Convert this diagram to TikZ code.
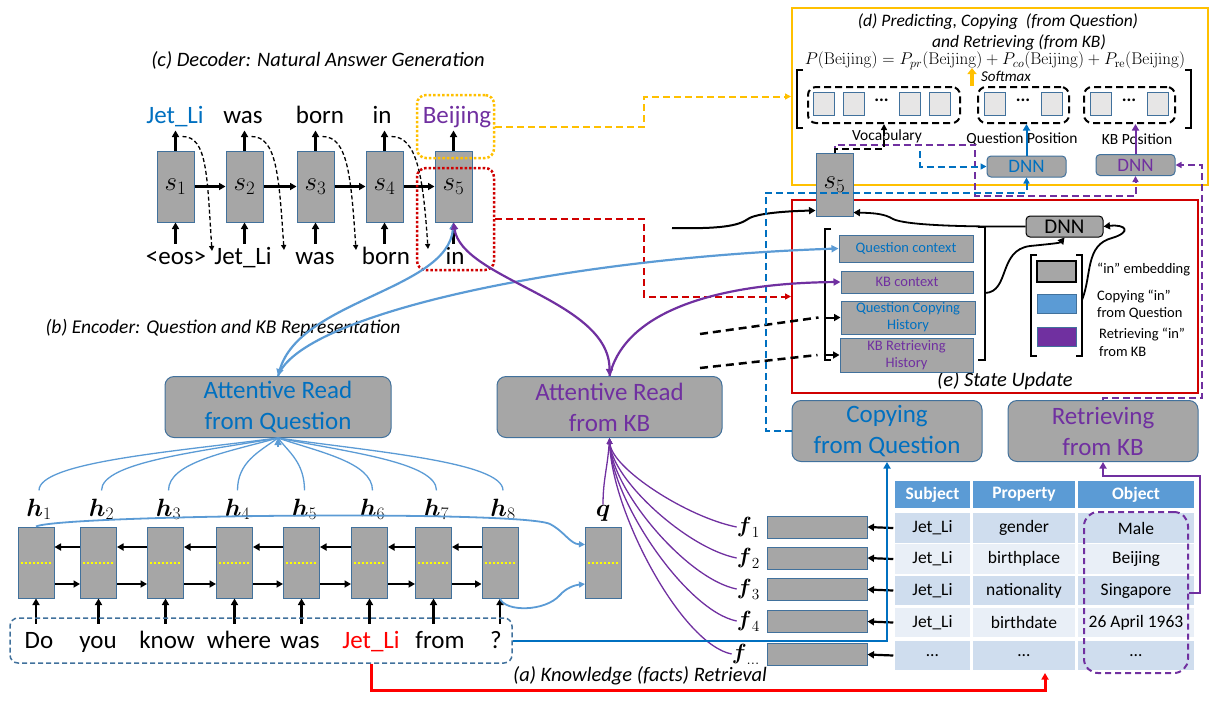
\RequirePackage{fix-cm}
\documentclass[tikz,border=0pt]{standalone}
\usepackage{amsmath}
\usepackage[no-math]{fontspec}
\setmainfont{Carlito}
\usetikzlibrary{arrows.meta,calc}
\definecolor{qblue}{HTML}{0070C0}
\definecolor{lblue}{HTML}{5B9BD5}
\definecolor{kbpur}{HTML}{7030A0}
\definecolor{bgray}{HTML}{A6A6A6}
\definecolor{steel}{HTML}{41719C}
\definecolor{dyel}{HTML}{FFC000}
\definecolor{ered}{HTML}{D00000}
\definecolor{rowA}{HTML}{CFDDEE}
\definecolor{rowB}{HTML}{E9EFF7}
\definecolor{thead}{HTML}{5B9BD5}
\definecolor{sqfill}{HTML}{E7E6E6}
\definecolor{pureyel}{HTML}{FFFF00}
\definecolor{brred}{HTML}{FF0000}
\newcommand{\fsz}[2]{\fontsize{#1}{#2}\selectfont}
\begin{document}
\begin{tikzpicture}[x=1pt,y=-1pt,
  gbox/.style={draw=steel,fill=bgray,line width=1pt,inner sep=0pt},
  ar/.style={line width=2.2pt,-{Triangle[length=6.5pt,width=7pt]}},
  wd/.style={inner sep=0pt,anchor=base,font={\fsz{25}{30}}},
  captxt/.style={inner sep=0pt,font={\fsz{20.5}{24}\itshape}},
  dec/.style={line width=1.3pt,dash pattern=on 4pt off 2.5pt,-{Triangle[length=5pt,width=5pt]}},
  ddash/.style={line width=2pt,dash pattern=on 7pt off 4pt,-{Triangle[length=6pt,width=6pt]}},
  att/.style={lblue,line width=1.3pt},
  fcur/.style={kbpur,line width=1.3pt,-{Triangle[length=6pt,width=5pt]}},
  cell/.style={draw=white,line width=1.5pt,inner sep=0pt,minimum height=31pt,font={\fsz{17.5}{21}}},
  sq/.style={draw=steel,fill=sqfill,line width=1pt,minimum width=21pt,minimum height=23pt,inner sep=0pt},
  grp/.style={draw=black,line width=2pt,dash pattern=on 7pt off 4pt,rounded corners=8pt,minimum height=36pt,inner sep=0pt},
  bigbox/.style={gbox,rounded corners=9pt,minimum height=61pt,align=center,font={\fsz{25}{31}}},
  item/.style={gbox,align=center,font={\fsz{14.5}{17}}},
  brk/.style={line width=2.5pt},
  lab/.style={inner sep=0pt,font={\fsz{15.5}{18}}},
  leg/.style={inner sep=0pt,anchor=base west,font={\fsz{14.5}{17}}},
  dnn/.style={gbox,rounded corners=4pt,minimum width=79pt,minimum height=21pt,font={\fsz{19}{20}}},
]
\useasboundingbox (0,0) rectangle (1224,721);

% ---------- frames (d) and (e)
\node[draw=dyel,line width=2pt,minimum width=416pt,minimum height=177pt,inner sep=0] (dbox) at (1000,96.5) {};
\node[draw=ered,line width=2pt,minimum width=406pt,minimum height=193pt,inner sep=0] (ebox) at (995,296.5) {};

% ---------- captions
\node[captxt] (ctit) at (318,60) {(c) Decoder: Natural Answer Generation};
\node[captxt,font={\fsz{19.5}{24}\itshape}] (btit) at (223,328) {(b) Encoder: Question and KB Representation};
\node[captxt] (atit) at (640,676) {(a) Knowledge (facts) Retrieval};
\node[captxt] (etit) at (1005,381) {(e) State Update};
\node[inner sep=0,font={\fsz{17.5}{20}\itshape}] (dt1) at (998,22) {(d) Predicting, Copying\ \ (from Question)};
\node[inner sep=0,font={\fsz{17.5}{20}\itshape}] (dt2) at (1019,43) {and Retrieving (from KB)};
\node[inner sep=0,font={\fsz{17}{20}}] (form) at (995,61) {$P(\mathrm{Beijing})=P_{pr}(\mathrm{Beijing})+P_{co}(\mathrm{Beijing})+P_{\mathrm{re}}(\mathrm{Beijing})$};
\node[inner sep=0,anchor=west,font={\fsz{15}{17}\itshape}] (smx) at (981,76) {Softmax};
\draw[dyel,line width=3.5pt,-{Triangle[length=6pt,width=9pt]}] ($(smx.west)+(-9,10)$) -- ($(smx.west)+(-9,-8)$);

% ---------- (d) contents
\draw[brk] (803,70) -| (797,128) -- (803,128);
\draw[brk] (1185,70) -| (1191,128) -- (1185,128);
\node[grp,minimum width=152pt] (voc) at (884,105) {};
\node[grp,minimum width=91pt] (qpos) at (1023.5,105) {};
\node[grp,minimum width=91pt] (kbpos) at (1129.5,105) {};
\foreach \x [count=\k] in {823.5,853.5,909.5,939.5} \node[sq] (vs\k) at (\x,104) {};
\node[sq] (qs1) at (994.5,104) {};
\node[sq] (qs2) at (1051.5,104) {};
\node[sq] (ks1) at (1100.5,104) {};
\node[sq] (ks2) at (1157.5,104) {};
\node[inner sep=0,font={\fsz{18}{20}\bfseries}] (vdt) at (881.5,100) {...};
\node[inner sep=0,font={\fsz{18}{20}\bfseries}] (qdt) at (1023,100) {...};
\node[inner sep=0,font={\fsz{18}{20}\bfseries}] (kdt) at (1129,100) {...};
\node[lab] (vocl) at (887,136) {Vocabulary};
\node[lab] (qposl) at (1022,139) {Question Position};
\node[lab] (kbposl) at (1137,139) {KB Position};
\node[dnn,text=qblue] (dnnq) at (1026.5,166.5) {DNN};
\node[dnn,text=kbpur] (dnnkb) at (1135.5,165) {DNN};
\draw[qblue,ar,line width=2pt] (dnnq.north) -- (dnnq.north |- qpos.south);
\draw[kbpur,ar,line width=2pt] (dnnkb.north) -- (dnnkb.north |- kbpos.south);

% ---------- (e) contents
\node[item,text=qblue,minimum width=134pt,minimum height=27pt] (qc) at (906,248.5) {Question context};
\node[item,text=kbpur,minimum width=132pt,minimum height=22pt] (kbc) at (907,282) {KB context};
\node[item,text=qblue,minimum width=134pt,minimum height=33pt] (qch) at (908,317.5) {Question Copying\\History};
\node[item,text=kbpur,minimum width=133pt,minimum height=34pt] (kbrh) at (906.5,355) {KB Retrieving\\History};
\draw[brk] (831,229) -| (825,360) -- (831,360);
\draw[brk] (978,227) -| (985,360) -- (978,360);
\draw[ar,line width=2pt] ($(qch.west)+(-16,0)$) -- (qch.west);
\draw[ar,line width=2pt] ($(kbrh.west)+(-16,0)$) -- (kbrh.west);
\coordinate (hq) at (700,334);
\coordinate (hk) at (700,368);
\draw[line width=2.5pt,dash pattern=on 8pt off 5pt] (hq) -- ($(qch.west)+(-22,0)$);
\draw[line width=2.5pt,dash pattern=on 8pt off 5pt] (hk) -- ($(kbrh.west)+(-22,0)$);
\node[dnn,draw=black,minimum width=77pt,font={\fsz{21}{22}}] (dnne) at (1064.5,226.5) {DNN};
\draw[brk] (1037,255) -| (1031,356) -- (1037,356);
\draw[brk] (1076,255) -| (1082,356) -- (1076,356);
\node[draw=black,fill=bgray,line width=1.5pt,minimum width=39pt,minimum height=21pt,inner sep=0] (lg1) at (1056.5,271.5) {};
\node[draw=steel,fill=lblue,line width=1pt,minimum width=39pt,minimum height=19pt,inner sep=0] (lg2) at (1056.5,303.5) {};
\node[draw=steel,fill=kbpur,line width=1pt,minimum width=39pt,minimum height=19pt,inner sep=0] (lg3) at (1056.5,336.5) {};
\node[leg] (lt1) at (1097,273) {“in” embedding};
\node[leg] (lt2) at (1097,300) {Copying “in”};
\node[leg] (lt3) at (1097,317) {from Question};
\node[leg] (lt4) at (1099,338) {Retrieving “in”};
\node[leg] (lt5) at (1099,356) {from KB};
\draw[ar,line width=1.8pt] (985,293) .. controls (1010,292) and (998,250) .. (1030,246) .. controls (1050,244) and (1060,243) .. (dnne.south);
\draw[ar,line width=1.8pt] (1082,300) .. controls (1092,275) and (1085,245) .. (1112,238) .. controls (1132,232) and (1126,224) .. (dnne.east);

% ---------- s5 (state update)
\node[gbox,minimum width=37pt,minimum height=63pt,font={\fsz{27}{30}}] (s5r) at (834.5,184.5) {$s_5$};
\draw[ar,line width=1.8pt] (dnne.west) .. controls (960,227) and (905,225) .. (893,219) .. controls (885,214) and (875,213) .. ($(s5r.south east)+(0,-4)$);
\coordinate (sprev) at (672,228);
\draw[ar,line width=2pt] (sprev) .. controls (720,229) and (738,226) .. (748,219) .. controls (756,213) and (790,211) .. ($(s5r.south west)+(0,-6)$);
\draw[kbpur,ddash] (s5r.north) -- ++(0,-8) -| (975,196) -| (dnnkb.south);
\draw[ddash] (s5r.north) |- ($(voc.south)+(0,25)$) -- (voc.south);
\coordinate (qbr) at (920,151);
\draw[qblue,ddash] (qbr) |- (dnnq.west);

% ---------- copying / retrieving
\node[bigbox,minimum width=190pt,text=qblue] (cfq) at (887,431) {Copying\\from Question};
\node[bigbox,minimum width=190pt,text=kbpur] (rkb) at (1103,431) {Retrieving\\from KB};
\draw[qblue,ddash] (cfq.west) -- ++(-26,0) |- ($(dnnq.south)+(0,15)$) -- (dnnq.south);
\draw[kbpur,ddash] (rkb.north) -- ++(0,-2) -- ++(99,0) |- (dnnkb.east);

% ---------- decoder
\foreach \i/\x in {1/175.5,2/244.5,3/315.5,4/384.5,5/453.5}{
  \node[gbox,minimum width=37pt,minimum height=71pt,font={\fsz{27}{30}}] (d\i) at (\x,186.5) {$s_{\i}$};
  \draw[ar] (d\i.north) -- ++(0,-20);
  \draw[ar] ($(d\i.south)+(0,21)$) -- (d\i.south);
}
\foreach \i/\j in {1/2,2/3,3/4,4/5} \draw[ar] (d\i.east) -- (d\j.west);
\node[wd,text=qblue] (tw1) at (175,123) {Jet\_Li};
\node[wd] (tw2) at (243,123) {was};
\node[wd] (tw3) at (320,123) {born};
\node[wd] (tw4) at (382,123) {in};
\node[wd,text=kbpur] (tw5) at (457,123) {Beijing};
\node[wd] (bw1) at (176,264) {\textless eos\textgreater};
\node[wd] (bw2) at (243,264) {Jet\_Li};
\node[wd] (bw3) at (315,264) {was};
\node[wd] (bw4) at (386,264) {born};
\node[wd] (bw5) at (455,264) {in};
\draw[dec] ($(d1.north)+(7,-14)$) .. controls +(25,0) and +(-5,-75) .. (212,251);
\draw[dec] ($(d2.north)+(7,-14)$) .. controls +(25,0) and +(-5,-75) .. (284,250);
\draw[dec] ($(d3.north)+(7,-14)$) .. controls +(25,0) and +(-5,-75) .. (356,250);
\draw[dec] ($(d4.north)+(7,-14)$) .. controls +(25,0) and +(-5,-75) .. (428,249);
\node[draw=dyel,line width=2.5pt,dash pattern=on 2.5pt off 2pt,rounded corners=9pt,minimum width=77pt,minimum height=63pt,inner sep=0] (ydot) at (455.5,126.5) {};
\node[draw=ered,line width=2.5pt,dash pattern=on 2.5pt off 2pt,rounded corners=9pt,minimum width=77pt,minimum height=102pt,inner sep=0] (rdot) at (455.5,219) {};
\draw[dyel,ddash] (ydot.east) -- ++(149,0) |- (dbox.west);
\draw[ered,ddash] (rdot.east) -- ++(149,0) |- (ebox.west);

% ---------- attentive read boxes
\node[bigbox,minimum width=226pt,text=qblue] (aq) at (278,407) {Attentive Read\\from Question};
\node[bigbox,minimum width=225pt,text=kbpur] (akb) at (609.5,407) {Attentive Read\\from KB};
\draw[lblue,line width=2.2pt,{Triangle[length=7pt,width=7pt]}-{Triangle[length=7pt,width=7pt]}] (d5.south) .. controls (448,290) and (300,300) .. (aq.north);
\draw[lblue,line width=2.2pt,-{Triangle[length=7pt,width=7pt]}] (aq.north) .. controls (300,315) and (560,258) .. (qc.west);
\draw[kbpur,line width=2.2pt,{Triangle[length=7pt,width=7pt]}-{Triangle[length=7pt,width=7pt]}] (d5.south) .. controls (462,280) and (610,300) .. (akb.north);
\draw[kbpur,line width=2.2pt,-{Triangle[length=7pt,width=7pt]}] (akb.north) .. controls (625,310) and (720,283) .. (kbc.west);

% ---------- encoder
\foreach \x [count=\k] in {36,98.5,165.5,234.5,301.5,369.5,433.5,500}{
  \node[gbox,minimum width=36pt,minimum height=71pt] (e\k) at (\x,562.5) {};
  \draw[pureyel,line width=2pt,dash pattern=on 2pt off 2pt] ($(e\k.west)+(3,0)$) -- ($(e\k.east)+(-3,0)$);
  \node[inner sep=0,anchor=base,font={\fsz{25}{28}}] (hl\k) at (\x+3,516) {$\boldsymbol{h}_{\k}$};
  \draw[ar] ($(e\k.south)+(0,25)$) -- (e\k.south);
  \draw[att] ($(hl\k.north)+(0,-8)$) .. controls +(0,-28) and ({278+0.45*(\x-278)},452) .. (aq.south);
}
\draw[att,-{Triangle[length=7pt,width=7pt]}] ($(aq.south)+(0,9)$) -- (aq.south);
\foreach \i/\j in {1/2,2/3,3/4,4/5,5/6,6/7,7/8}{
  \draw[ar] ($(e\j.west)+(0,-15.5)$) -- ($(e\i.east)+(0,-15.5)$);
  \draw[ar] ($(e\i.east)+(0,21.5)$) -- ($(e\j.west)+(0,21.5)$);
}
\node[gbox,minimum width=36pt,minimum height=71pt] (qb) at (603.5,562.5) {};
\draw[pureyel,line width=2pt,dash pattern=on 2pt off 2pt] ($(qb.west)+(3,0)$) -- ($(qb.east)+(-3,0)$);
\node[inner sep=0,anchor=base,font={\fsz{25}{28}}] (ql) at (603,516) {$\boldsymbol{q}$};
\draw[lblue,line width=1.8pt,-{Triangle[length=6pt,width=6pt]}] (e1.north) .. controls (60,515) and (520,510) .. (550,524) .. controls (565,532) and (570,544) .. ($(qb.west)+(0,-18)$);
\draw[lblue,line width=1.8pt,-{Triangle[length=6pt,width=6pt]}] (e8.south) .. controls (505,612) and (545,612) .. (560,595) .. controls (566,588) and (575,585) .. ($(qb.west)+(0,21.5)$);

\node[draw=steel,line width=1.5pt,dash pattern=on 5pt off 3pt,rounded corners=8pt,minimum width=502pt,minimum height=45pt,inner sep=0] (qbox) at (261,640.5) {};
\node[wd] (w1) at (39,648) {Do};
\node[wd] (w2) at (98,648) {you};
\node[wd] (w3) at (167,648) {know};
\node[wd] (w4) at (239,648) {where};
\node[wd] (w5) at (300,648) {was};
\node[wd,text=brred] (w6) at (371,648) {Jet\_Li};
\node[wd] (w7) at (440,648) {from};
\node[wd] (w8) at (496,648) {?};

% ---------- facts & table
\node[cell,fill=thead,text=white,font={\fsz{17.5}{21}\bfseries},minimum width=77pt,minimum height=29pt] (ths) at (932.5,494.5) {Subject};
\node[cell,fill=thead,text=white,font={\fsz{17.5}{21}\bfseries},minimum width=104pt,minimum height=29pt] (thp) at (1024,494.5) {Property};
\node[cell,fill=thead,text=white,font={\fsz{17.5}{21}\bfseries},minimum width=118pt,minimum height=29pt] (tho) at (1136,494.5) {Object};
\foreach \n/\ry/\rf/\va/\vb/\vc in {1/528/rowA/Jet\_Li/gender/Male,2/559/rowB/Jet\_Li/birthplace/Beijing,3/590.5/rowA/Jet\_Li/nationality/Singapore,4/622.5/rowB/Jet\_Li/birthdate/26 April 1963,5/655.5/rowA/\dots/\dots/\dots}{
  \node[cell,fill=\rf,minimum width=77pt] (ts\n) at (932.5,\ry) {\va};
  \node[cell,fill=\rf,minimum width=104pt] (tp\n) at (1024,\ry) {\vb};
  \node[cell,fill=\rf,minimum width=118pt] (to\n) at (1136,\ry) {\vc};
  \node[gbox,minimum width=100pt,minimum height=22pt] (fb\n) at (817,\ry-1) {};
  \draw[ar] (ts\n.west) -- (fb\n.east);
}
\foreach \n/\ry in {1/527,2/558,3/589,4/621}
  \node[inner sep=0,anchor=east,font={\fsz{22}{26}}] (fl\n) at (760,\ry) {$\boldsymbol{f}_{\n}$};
\node[inner sep=0,anchor=east,font={\fsz{22}{26}}] (fl5) at (760,654) {$\boldsymbol{f}_{\dots}$};
\foreach \n/\ry in {1/527,2/558,3/589,4/621,5/654}
  \draw[fcur] (fl\n.west) .. controls +(-50,-10) and ({612},{437+0.35*(\ry-437)}) .. (akb.south);
\draw[fcur] (ql.north) .. controls +(0,-25) and +(-2,30) .. (akb.south);
\node[draw=kbpur,line width=2pt,dash pattern=on 6pt off 4pt,rounded corners=14pt,minimum width=104pt,minimum height=161pt,inner sep=0] (objd) at (1136,592.5) {};
\draw[kbpur,ar,line width=2pt] (objd.east) -- ++(11,0) |- ($(rkb.south)+(0,14)$) -- (rkb.south);
\draw[qblue,ar,line width=2pt] (qbox.east) -| (cfq.south);
\coordinate (tabbot) at (1045,673);
\draw[brred,ar,line width=3pt] (w6 |- qbox.south) -- ++(0,27) -| (tabbot);
\end{tikzpicture}
\end{document}
